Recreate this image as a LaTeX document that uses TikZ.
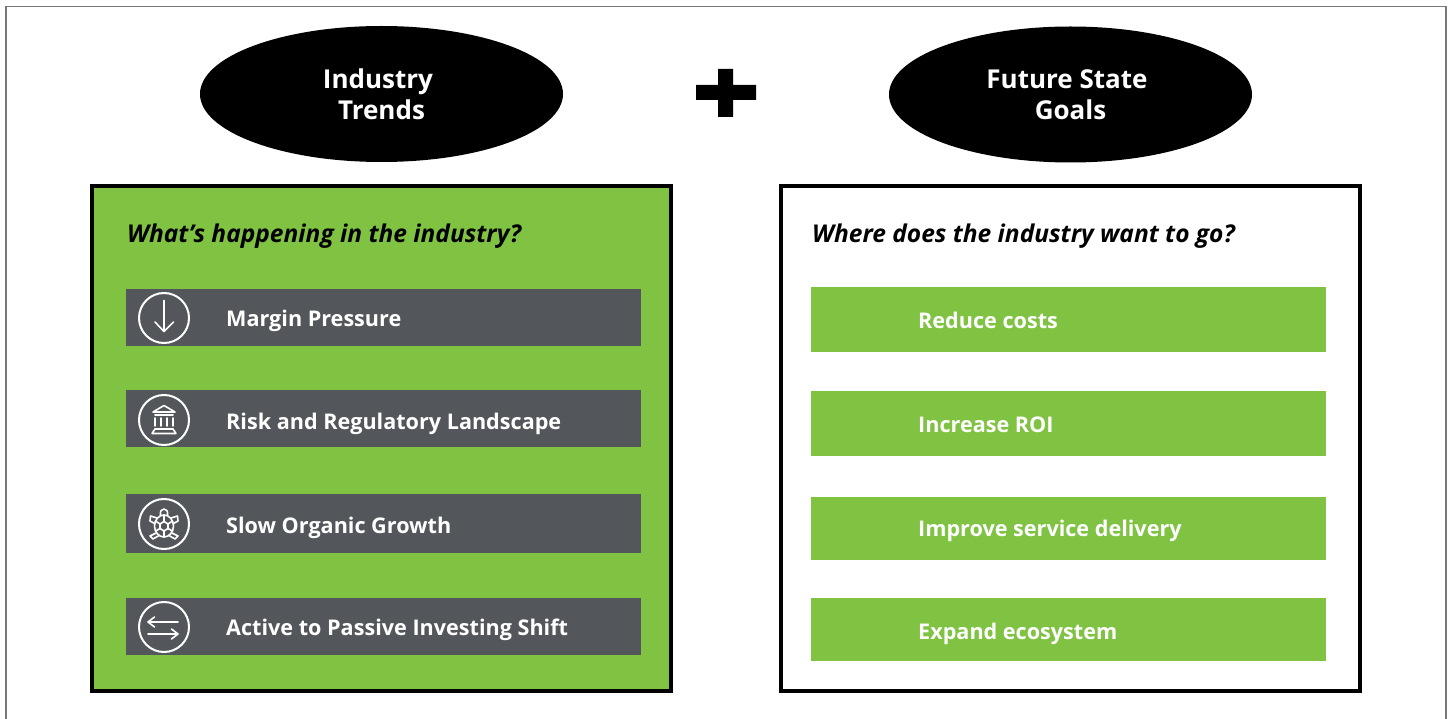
\documentclass[tikz,border=0pt]{standalone}
\usepackage{fontspec}
\setmainfont{Open Sans}
\usetikzlibrary{shapes.geometric,arrows.meta}
\definecolor{lime}{HTML}{80C342}
\definecolor{slate}{HTML}{53565A}
\definecolor{framegray}{HTML}{75787B}
\tikzset{x=1pt,y=-1pt,
 oval/.style={ellipse,fill=black,inner sep=0,minimum width=363,minimum height=136,text=white,font=\bfseries\fontsize{26}{31}\selectfont,align=center},
 panel/.style={draw=black,line width=4.5pt,anchor=north west,outer sep=0,inner sep=0},
 rowbar/.style={fill=slate,draw=none,anchor=north west,minimum width=515,inner sep=0},
 goalbar/.style={fill=lime,draw=none,anchor=north west,minimum width=515,inner sep=0},
 rowtext/.style={text=white,font=\bfseries\fontsize{21.6}{26}\selectfont,anchor=base west,inner sep=0},
 head/.style={font=\bfseries\itshape\fontsize{24.5}{30}\selectfont,anchor=base west,inner sep=0},
 icon/.style={circle,draw=white,line width=2pt,minimum size=50,inner sep=0},
 glyph/.style={draw=white,line width=1.6pt,line cap=round,line join=round}}
\begin{document}
\begin{tikzpicture}
\useasboundingbox (0,0) rectangle (1452,719);
\fill[white] (0,0) rectangle (1452,719);
\draw[framegray,line width=1.5pt] (6,740) -- (6,6.5) -- (1446,6.5) -- (1446,740);
\clip (0,0) rectangle (1452,719);
\node[oval] (trends) at (381.5,94) {\hspace*{-7pt}Industry\\Trends};
\node[oval] (goals) at (1070.5,94.5) {\hspace*{-7pt}Future State\\Goals};
\fill[black] (696,85) rectangle (756,100) (718,69) rectangle (733,117);
\node[panel,fill=lime,minimum width=579,minimum height=505] (left) at (92,186) {};
\node[panel,fill=white,minimum width=579,minimum height=505] (right) at (781,186) {};
\node[head] (lh) at (127,243) {What’s happening in the industry?};
\node[head] (rh) at (812,243) {Where does the industry want to go?};
\node[rowbar,minimum height=57] (r1) at (126,289) {};
\node[rowbar,minimum height=57] (r2) at (126,390) {};
\node[rowbar,minimum height=59] (r3) at (126,494) {};
\node[rowbar,minimum height=57] (r4) at (126,598) {};
\node[rowtext] (t1) at (226,327) {Margin Pressure};
\node[rowtext] (t2) at (226,429) {Risk and Regulatory Landscape};
\node[rowtext] (t3) at (226,533) {Slow Organic Growth};
\node[rowtext] (t4) at (226,635) {Active to Passive Investing Shift};
\node[icon] (i1) at (164,318) {};
\node[icon] (i2) at (164,420) {};
\node[icon] (i3) at (164,524) {};
\node[icon] (i4) at (164,627) {};
% down arrow
\draw[glyph] (164,300.5) -- (164,331.5) (155,322) -- (164,331.5) (173.5,322) -- (164,331.5);
% bank
\draw[glyph] (153,412) -- (164,405.5) -- (175,412) -- cycle;
\draw[glyph] (155,415) -- (173,415);
\draw[glyph] (155,418) -- (155,426) (161,418) -- (161,426) (167,418) -- (167,426) (173,418) -- (173,426);
\draw[glyph] (155,429) -- (173,429) -- (176,433.5) -- (152,433.5) -- cycle;
% turtle
\draw[glyph] (160.5,515) .. controls (159,507) and (169,507) .. (167.5,515);
\draw[glyph] (164,526) ellipse (9.5 and 11);
\draw[glyph] (164,521.5) -- (168,524) -- (168,528.5) -- (164,531) -- (160,528.5) -- (160,524) -- cycle;
\draw[glyph] (160,524) -- (155.5,521) (168,524) -- (172.5,521) (160,528.5) -- (155.5,531) (168,528.5) -- (172.5,531) (164,515) -- (164,521.5) (164,531) -- (164,537);
\draw[glyph] (157,518) -- (150.5,516) -- (150,521) -- (154.5,523.5);
\draw[glyph] (171,518) -- (177.5,516) -- (178,521) -- (173.5,523.5);
\draw[glyph] (156,533) -- (150,536) -- (153,539) -- (159,535.5);
\draw[glyph] (172,533) -- (178,536) -- (175,539) -- (169,535.5);
% exchange
\draw[glyph] (178,622) -- (148,622) (154.5,617) -- (148,622) -- (154.5,627);
\draw[glyph] (148,634) -- (178,634) (171.5,629) -- (178,634) -- (171.5,639);
\node[goalbar,minimum height=65] (g1) at (811,287) {};
\node[goalbar,minimum height=65] (g2) at (811,391) {};
\node[goalbar,minimum height=63] (g3) at (811,497) {};
\node[goalbar,minimum height=63] (g4) at (811,598) {};
\node[rowtext] (u1) at (918,329) {Reduce costs};
\node[rowtext] (u2) at (918,432) {Increase ROI};
\node[rowtext] (u3) at (918,536) {Improve service delivery};
\node[rowtext] (u4) at (918,639) {Expand ecosystem};
\end{tikzpicture}
\end{document}
